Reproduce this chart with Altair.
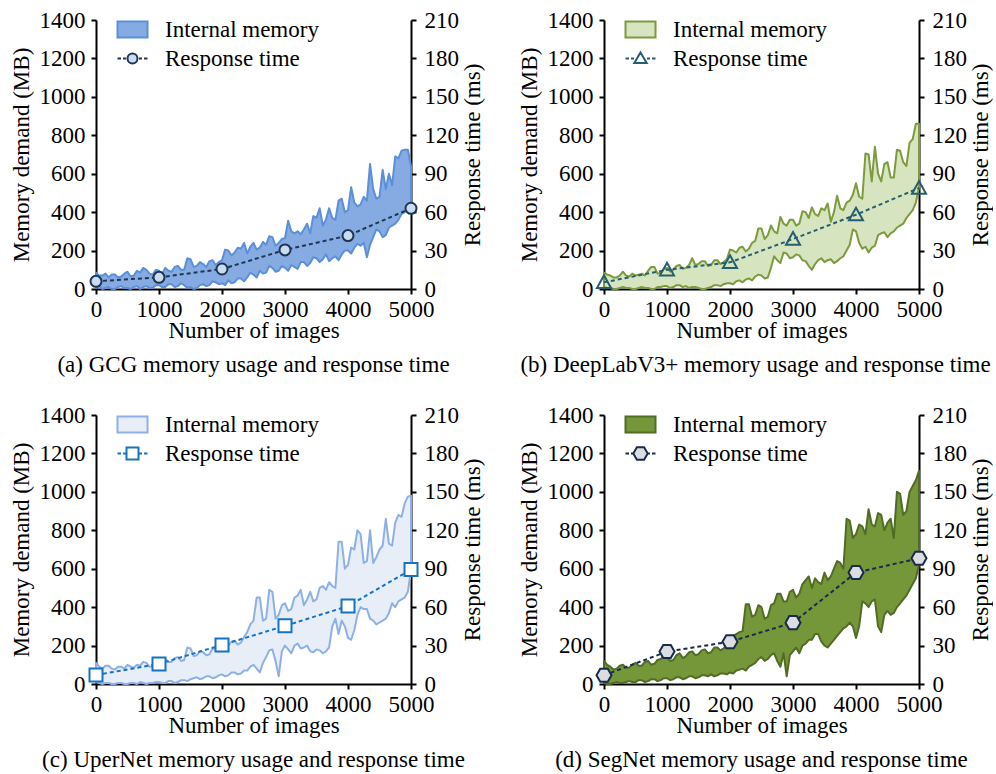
import altair as alt
import pandas as pd

FONT = "Liberation Serif, Times New Roman, DejaVu Serif, serif"

IMAGES = list(range(0, 5001, 50))
RT_IMAGES = [0, 1000, 2000, 3000, 4000, 5000]

# ---- GCG ----
GCG_UPPER = [85, 70, 70, 80, 60, 75, 75, 60, 65, 80,
             90, 65, 70, 95, 85, 110, 100, 80, 75, 100,
             95, 80, 110, 95, 90, 115, 120, 100, 100, 160,
             155, 115, 120, 140, 130, 115, 145, 150, 125, 140,
             150, 205, 200, 175, 190, 215, 210, 240, 185, 220,
             240, 205, 215, 245, 230, 275, 270, 225, 240, 260,
             265, 355, 300, 290, 300, 285, 310, 340, 290, 380,
             370, 420, 330, 360, 420, 370, 360, 460, 470, 400,
             410, 530, 450, 430, 440, 480, 460, 650, 520, 470,
             480, 620, 520, 600, 540, 690, 680, 720, 725, 725,
             640]
GCG_LOWER = [5, 15, 0, 5, 10, 0, 0, 10, 15, 5,
             5, 0, 10, 15, 0, 10, 15, 5, 5, 20,
             20, 10, 10, 25, 25, 10, 15, 30, 20, 5,
             10, 0, 5, 20, 25, 15, 20, 40, 35, 25,
             30, 20, 45, 30, 35, 55, 55, 40, 60, 85,
             75, 60, 95, 80, 85, 120, 110, 90, 95, 120,
             110, 95, 125, 115, 105, 140, 140, 120, 135, 165,
             160, 140, 155, 180, 145, 160, 170, 150, 180, 200,
             200, 185, 215, 235, 225, 240, 165, 230, 270, 310,
             300, 270, 280, 320, 330, 340, 360, 390, 400, 420,
             430]
GCG_RT = [6.0, 9.1, 15.6, 30.5, 41.7, 63.0]

# ---- DeepLabV3+ ----
DLV_UPPER = [85, 75, 70, 60, 60, 70, 90, 70, 65, 80,
             70, 75, 80, 70, 95, 115, 115, 80, 85, 105,
             110, 90, 100, 120, 125, 105, 110, 125, 160, 125,
             130, 145, 145, 120, 125, 150, 150, 130, 140, 155,
             205, 200, 190, 215, 220, 195, 210, 240, 250, 315,
             315, 260, 280, 330, 300, 290, 375, 340, 330, 360,
             360, 330, 340, 405, 400, 370, 425, 390, 380, 420,
             410, 445, 350, 400, 485, 420, 410, 450, 460, 490,
             550, 480, 470, 705, 700, 560, 740, 600, 560, 650,
             660, 580, 580, 725, 720, 660, 640, 760, 780, 860,
             860]
DLV_LOWER = [10, 5, 5, 0, 0, 5, 10, 5, 5, 0,
             0, 5, 10, 5, 5, 0, 0, 10, 10, 15,
             15, 5, 10, 20, 20, 10, 15, 5, 10, 10,
             5, 0, 0, 5, 10, 20, 20, 15, 25, 30,
             30, 25, 40, 45, 35, 50, 55, 45, 65, 75,
             70, 55, 60, 110, 170, 150, 135, 190, 185, 160,
             165, 180, 175, 150, 145, 120, 100, 130, 150, 160,
             140, 150, 155, 135, 145, 160, 170, 200, 230, 310,
             300, 240, 210, 220, 190, 215, 225, 280, 290, 295,
             270, 290, 300, 320, 330, 340, 370, 390, 410, 450,
             530]
DLV_RT = [5.2, 15.0, 20.8, 39.0, 58.0, 78.8]

# ---- UperNet ----
UPN_UPPER = [110, 90, 80, 95, 95, 80, 75, 90, 90, 80,
             100, 90, 85, 100, 95, 115, 110, 90, 90, 110,
             115, 100, 130, 115, 115, 135, 140, 120, 125, 190,
             185, 145, 150, 170, 165, 150, 155, 185, 180, 170,
             210, 215, 200, 220, 225, 205, 215, 245, 270, 310,
             330, 450, 450, 330, 340, 490, 480, 340, 360, 410,
             420, 380, 390, 450, 460, 490, 410, 440, 480, 430,
             440, 500, 510, 490, 530, 510, 500, 740, 740, 600,
             620, 710, 700, 800, 780, 630, 640, 800, 630, 660,
             700, 720, 860, 730, 720, 840, 880, 870, 940, 975,
             980]
UPN_LOWER = [10, 5, 0, 5, 5, 0, 0, 5, 5, 0,
             0, 5, 5, 0, 10, 5, 0, 5, 5, 10,
             10, 5, 5, 15, 15, 5, 10, 20, 20, 15,
             25, 30, 35, 25, 30, 40, 40, 30, 35, 45,
             50, 40, 45, 60, 60, 50, 55, 70, 70, 90,
             100, 80, 60, 110, 140, 175, 180, 120, 40, 170,
             200, 180, 160, 200, 210, 185, 190, 200, 170, 165,
             180, 175, 160, 170, 190, 300, 340, 260, 330, 300,
             240, 230, 280, 360, 400, 390, 390, 340, 330, 310,
             320, 330, 340, 370, 420, 400, 430, 440, 450, 480,
             590]
UPN_RT = [7.0, 15.7, 30.5, 45.4, 60.8, 89.3]

# ---- SegNet ----
SEG_UPPER = [120, 100, 90, 75, 80, 95, 100, 85, 85, 100,
             110, 95, 95, 115, 120, 100, 105, 125, 130, 150,
             140, 120, 125, 150, 160, 135, 145, 165, 170, 150,
             155, 175, 180, 160, 165, 190, 190, 175, 185, 205,
             230, 250, 260, 270, 275, 415, 415, 350, 360, 410,
             400, 340, 350, 410, 420, 470, 470, 430, 430, 480,
             490, 450, 470, 520, 540, 560, 500, 550, 530, 520,
             580, 540, 560, 600, 640, 630, 600, 860, 850, 760,
             780, 830, 820, 780, 910, 830, 820, 890, 880, 800,
             840, 860, 760, 1000, 990, 880, 900, 1000, 1030, 1060,
             1110]
SEG_LOWER = [5, 0, 0, 5, 10, 5, 5, 10, 15, 10,
             10, 20, 20, 10, 15, 25, 25, 15, 20, 30,
             30, 20, 25, 35, 35, 25, 30, 40, 40, 30,
             35, 45, 45, 40, 50, 40, 45, 55, 55, 50,
             60, 55, 70, 75, 80, 70, 90, 100, 110, 130,
             140, 120, 130, 150, 160, 120, 90, 160, 40, 150,
             170, 190, 160, 200, 210, 230, 230, 260, 260, 220,
             200, 190, 210, 230, 250, 270, 290, 300, 320, 300,
             240, 300, 430, 420, 400, 430, 440, 300, 270, 360,
             380, 360, 370, 400, 420, 440, 460, 490, 520, 550,
             620]
SEG_RT = [6.8, 25.3, 33.0, 47.9, 87.0, 98.1]

# marker outlines (unit square coordinates)
CIRCLE = "circle"
TRIANGLE = "M0,-1L1,0.8L-1,0.8Z"
SQUARE = "square"
HEXAGON = "M1,0L0.5,0.87L-0.5,0.87L-1,0L-0.5,-0.87L0.5,-0.87Z"

DASHES = "M-1.5,0H-1.15M-0.95,0H-0.65M0.65,0H0.95M1.15,0H1.5"
LEG_MARK = {
    "circle": "M0.5,0A0.5,0.5,0,1,1,-0.5,0A0.5,0.5,0,1,1,0.5,0Z",
    "triangle": "M0,-0.6L0.62,0.45L-0.62,0.45Z",
    "square": "M-0.6,-0.6H0.6V0.6H-0.6Z",
    "hexagon": "M0.72,0L0.36,0.62L-0.36,0.62L-0.72,0L-0.36,-0.62L0.36,-0.62Z",
}
RECT = "M-1.5,-0.8H1.5V0.8H-1.5Z"

PANELS = [
    dict(caption="(a) GCG memory usage and response time", upper=GCG_UPPER, lower=GCG_LOWER,
         rt=GCG_RT, fill="#86ABE2", edge="#5A8FDA", line="#1F3553",
         mfill="#C9DDF2", shape=CIRCLE, msize=121, leg="circle", dx=0),
    dict(caption="(b) DeepLabV3+ memory usage and response time", upper=DLV_UPPER, lower=DLV_LOWER,
         rt=DLV_RT, fill="#D6E4BF", edge="#7B9B3C", line="#245E70",
         mfill="transparent", shape=TRIANGLE, msize=196, leg="triangle", dx=-6),
    dict(caption="(c) UperNet memory usage and response time", upper=UPN_UPPER, lower=UPN_LOWER,
         rt=UPN_RT, fill="#E8EEF7", edge="#8DB0E6", line="#1473C4",
         mfill="#FFFFFF", shape=SQUARE, msize=169, leg="square", dx=0),
    dict(caption="(d) SegNet memory usage and response time", upper=SEG_UPPER, lower=SEG_LOWER,
         rt=SEG_RT, fill="#76963A", edge="#506C25", line="#172B4D",
         mfill="#DCDDE0", shape=HEXAGON, msize=225, leg="hexagon", dx=0),
]

W, H = 315, 269

axis_common = dict(
    labelFontSize=23, titleFontSize=23, labelColor="black", titleColor="black",
    domainColor="black", tickColor="black", domainWidth=2, tickWidth=2,
    tickSize=5, grid=False, format="d", labelOverlap=False, labelFlush=False,
)


def panel(p):
    mem = pd.DataFrame({"images": IMAGES, "upper": p["upper"], "lower": p["lower"],
                        "kind": "Internal memory"})
    rt = pd.DataFrame({"images": RT_IMAGES, "ms": p["rt"], "kind": "Response time"})

    x = alt.X("images:Q", scale=alt.Scale(domain=[0, 5000], nice=False),
              axis=alt.Axis(values=[0, 1000, 2000, 3000, 4000, 5000], title="Number of images",
                            labelPadding=4, titlePadding=-2, **axis_common))

    area = alt.Chart(mem).mark_area(stroke=p["edge"], strokeWidth=2, opacity=1,
                                    strokeJoin="round").encode(
        x=x,
        y=alt.Y("lower:Q", scale=alt.Scale(domain=[0, 1400], nice=False),
                axis=alt.Axis(values=list(range(0, 1401, 200)), title="Memory demand (MB)",
                              orient="left", labelPadding=6, titlePadding=6, **axis_common)),
        y2="upper:Q",
        fill=alt.Fill("kind:N", scale=alt.Scale(domain=["Internal memory"], range=[p["fill"]]),
                      legend=alt.Legend(title=None, orient="none", legendX=25, legendY=-2,
                                        labelFontSize=23, labelColor="black",
                                        labelOffset=21, symbolType=RECT, symbolSize=400,
                                        symbolStrokeColor=p["edge"], symbolStrokeWidth=2,
                                        symbolFillColor=p["fill"], symbolOpacity=1)),
    )

    y_rt = alt.Y("ms:Q", scale=alt.Scale(domain=[0, 210], nice=False),
                 axis=alt.Axis(values=list(range(0, 211, 30)), title="Response time (ms)",
                               orient="right", labelPadding=8, titlePadding=3, titleAngle=270,
                               titleBaseline="top", **axis_common))

    rt_line = alt.Chart(rt).mark_line(color=p["line"], strokeWidth=2, strokeDash=[4, 3]).encode(
        x="images:Q", y=y_rt)

    rt_pts = alt.Chart(rt).mark_point(shape=p["shape"], size=p["msize"], strokeWidth=2,
                                      fill=p["mfill"], opacity=1, fillOpacity=1).encode(
        x="images:Q", y=y_rt,
        stroke=alt.Stroke("kind:N", scale=alt.Scale(domain=["Response time"], range=[p["line"]]),
                          legend=alt.Legend(title=None, orient="none", legendX=25, legendY=27,
                                            labelFontSize=23, labelColor="black",
                                            labelOffset=21, symbolType=DASHES + LEG_MARK[p["leg"]],
                                            symbolSize=400, symbolStrokeColor=p["line"],
                                            symbolStrokeWidth=2, symbolFillColor=p["mfill"],
                                            symbolOpacity=1)),
    )

    return alt.layer(area, alt.layer(rt_line, rt_pts)).resolve_scale(
        y="independent", fill="independent", stroke="independent"
    ).properties(
        width=W, height=H,
        title=alt.TitleParams(p["caption"], orient="bottom", anchor="middle",
                              fontSize=23, fontWeight="normal", color="black", offset=12,
                              dx=p["dx"]),
    )


row1 = alt.hconcat(panel(PANELS[0]), panel(PANELS[1]), spacing=33).resolve_scale(
    fill="independent", stroke="independent").resolve_legend(fill="independent", stroke="independent")
row2 = alt.hconcat(panel(PANELS[2]), panel(PANELS[3]), spacing=33).resolve_scale(
    fill="independent", stroke="independent").resolve_legend(fill="independent", stroke="independent")

chart = alt.vconcat(row1, row2, spacing=27).resolve_scale(
    fill="independent", stroke="independent").resolve_legend(
    fill="independent", stroke="independent").properties(
    padding={"left": 10, "top": 9, "right": 0, "bottom": 0},
    background="white",
).configure(
    font=FONT,
).configure_axis(
    labelFont=FONT, titleFont=FONT, titleFontWeight="normal",
).configure_legend(
    labelFont=FONT,
).configure_title(
    font=FONT,
).configure_view(stroke=None)

chart.save("out.html", embed_options={"renderer": "svg", "actions": False})
